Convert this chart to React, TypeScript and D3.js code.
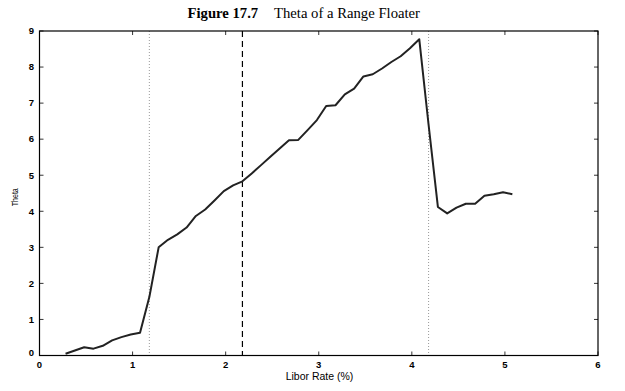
import React from "react";
import * as d3 from "d3";

const liborRates: number[] = [
  0.28, 0.38, 0.48, 0.58, 0.68, 0.78, 0.88, 0.98, 1.08, 1.18,
  1.28, 1.38, 1.48, 1.58, 1.68, 1.78, 1.88, 1.98, 2.08, 2.18,
  2.28, 2.38, 2.48, 2.58, 2.68, 2.78, 2.88, 2.98, 3.08, 3.18,
  3.28, 3.38, 3.48, 3.58, 3.68, 3.78, 3.88, 3.98, 4.08, 4.18,
  4.28, 4.38, 4.48, 4.58, 4.68, 4.78, 4.88, 4.98, 5.08,
];
const thetaValues: number[] = [
  0.05, 0.14, 0.23, 0.19, 0.27, 0.42, 0.51, 0.58, 0.63, 1.62,
  3.0, 3.21, 3.36, 3.55, 3.87, 4.05, 4.3, 4.56, 4.72, 4.83,
  5.05, 5.28, 5.51, 5.74, 5.97, 5.98, 6.25, 6.53, 6.92, 6.94,
  7.24, 7.4, 7.74, 7.8, 7.96, 8.14, 8.3, 8.52, 8.77, 6.4,
  4.12, 3.94, 4.1, 4.21, 4.21, 4.43, 4.47, 4.53, 4.47,
];
const xTicks: number[] = [0, 1, 2, 3, 4, 5, 6];
const yTicks: number[] = [0, 1, 2, 3, 4, 5, 6, 7, 8, 9];
const dottedLines: number[] = [1.18, 4.18];
const dashedLines: number[] = [2.18];

const titleBold = "Figure 17.7";
const titleRest = "Theta of a Range Floater";
const xLabel = "Libor Rate (%)";
const yLabel = "Theta";

export default function App() {
  const W = 625;
  const H = 391;
  const left = 39.5;
  const right = 598;
  const top = 31;
  const bottom = 355.5;
  const x = d3.scaleLinear().domain([0, 6]).range([left, right]);
  const y = d3.scaleLinear().domain([0, 9]).range([bottom, top]);
  const data = liborRates.map((r, i) => [r, thetaValues[i]] as [number, number]);
  const line = d3.line<[number, number]>().x((d) => x(d[0])).y((d) => y(d[1]));
  const tickFont = "'Liberation Sans', Arial, sans-serif";
  const serif = "'Liberation Serif', 'Times New Roman', serif";
  const tl = 4;

  return (
    <svg
      width={W}
      height={H}
      style={{ position: "absolute", left: 0, top: 0, background: "#fff" }}
    >
      <rect width={W} height={H} fill="#fff" />
      <text x={187.5} y={18} fontFamily={serif} fontSize={14.7} fontWeight="bold" fill="#000">
        {titleBold}
      </text>
      <text x={274} y={18} fontFamily={serif} fontSize={14.7} fill="#000">
        {titleRest}
      </text>

      {dottedLines.map((v) => (
        <line
          key={"dot" + v}
          x1={x(v)}
          x2={x(v)}
          y1={top}
          y2={bottom}
          stroke="#999"
          strokeWidth={1}
          strokeDasharray="1,2"
        />
      ))}
      {dashedLines.map((v) => (
        <line
          key={"dash" + v}
          x1={x(v)}
          x2={x(v)}
          y1={top}
          y2={bottom}
          stroke="#000"
          strokeWidth={1.2}
          strokeDasharray="6,4"
        />
      ))}

      <path d={line(data) || ""} fill="none" stroke="#222" strokeWidth={2} strokeLinejoin="round" />

      <rect
        x={left}
        y={top}
        width={right - left}
        height={bottom - top}
        fill="none"
        stroke="#000"
        strokeWidth={1.2}
      />

      {xTicks.map((t) => (
        <g key={"xt" + t}>
          <line x1={x(t)} x2={x(t)} y1={bottom} y2={bottom - tl} stroke="#000" strokeWidth={0.8} />
          <line x1={x(t)} x2={x(t)} y1={top} y2={top + tl} stroke="#000" strokeWidth={0.8} />
          <text
            x={x(t)}
            y={367.5}
            textAnchor="middle"
            fontFamily={tickFont}
            fontSize={9.5}
            fontWeight="bold"
            fill="#000"
          >
            {t}
          </text>
        </g>
      ))}
      {yTicks.map((t) => (
        <g key={"yt" + t}>
          <line x1={left} x2={left + tl} y1={y(t)} y2={y(t)} stroke="#000" strokeWidth={0.8} />
          <line x1={right} x2={right - tl} y1={y(t)} y2={y(t)} stroke="#000" strokeWidth={0.8} />
          <text
            x={34}
            y={y(t) + (t === 0 ? 0 : 3.3)}
            textAnchor="end"
            fontFamily={tickFont}
            fontSize={9.5}
            fontWeight="bold"
            fill="#000"
          >
            {t}
          </text>
        </g>
      ))}

      <text
        x={319.5}
        y={380}
        textAnchor="middle"
        fontFamily={tickFont}
        fontSize={10.5}
        fill="#000"
      >
        {xLabel}
      </text>
      <text
        transform={`translate(18, ${(top + bottom) / 2 + 4}) rotate(-90)`}
        textAnchor="middle"
        fontFamily={tickFont}
        fontSize={9.5}
        textLength={18}
        lengthAdjust="spacingAndGlyphs"
        fill="#000"
      >
        {yLabel}
      </text>
    </svg>
  );
}
